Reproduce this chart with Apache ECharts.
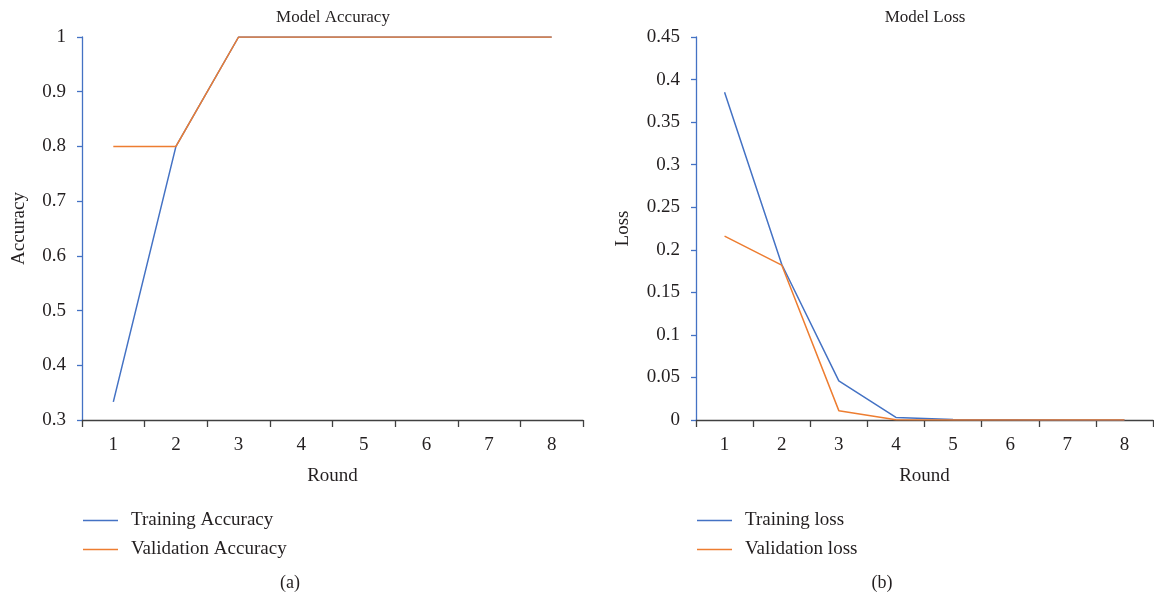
<!DOCTYPE html>
<html>
<head>
<meta charset="utf-8">
<script src="https://cdn.jsdelivr.net/npm/echarts@6/dist/echarts.min.js"></script>
<style>
html,body{margin:0;padding:0;background:#fff;}
#chart{width:1154px;height:601px;}
</style>
</head>
<body>
<div id="chart"></div>
<script>
const rounds = ['1','2','3','4','5','6','7','8'];
const trainingAccuracy = [0.333, 0.8, 1, 1, 1, 1, 1, 1];
const validationAccuracy = [0.8, 0.8, 1, 1, 1, 1, 1, 1];
const trainingLoss = [0.385, 0.183, 0.046, 0.003, 0.0005, 0.0002, 0.0001, 0.0001];
const validationLoss = [0.216, 0.182, 0.011, 0.0004, 0.0001, 0.0001, 0.0001, 0.0001];

const FONT = '"Liberation Serif", "DejaVu Serif", serif';
const TXT = '#231f20';
const BLUE = '#4472C4';
const ORANGE = '#ED7D31';

function xAxisCfg(gridIndex){
  return {
    type:'category', gridIndex, data: rounds, boundaryGap:true,
    name:'Round', nameLocation:'middle', nameGap:47,
    nameTextStyle:{fontFamily:FONT, fontSize:19, color:TXT},
    axisLine:{lineStyle:{color:'#404040', width:1.3}},
    axisTick:{show:true, interval:0, length:7, lineStyle:{color:'#404040', width:1.3}},
    axisLabel:{fontFamily:FONT, fontSize:19, color:TXT, margin:16, interval:0},
    splitLine:{show:false}
  };
}
function yAxisCfg(gridIndex, min, max, interval, name, nameGap){
  return {
    type:'value', gridIndex, min, max, interval,
    name, nameLocation:'middle', nameGap, nameRotate:90,
    nameTextStyle:{fontFamily:FONT, fontSize:19, color:TXT},
    axisLine:{show:true, lineStyle:{color:BLUE, width:1.3}},
    axisTick:{show:true, length:5, lineStyle:{color:BLUE, width:1.3}},
    axisLabel:{fontFamily:FONT, fontSize:19, color:TXT, margin:16},
    splitLine:{show:false}
  };
}
function lineSeries(name, data, color, idx){
  return {
    name, type:'line', data, xAxisIndex:idx, yAxisIndex:idx,
    symbol:'none', smooth:false, color,
    lineStyle:{color, width:1.5}, animation:false
  };
}
function legendCfg(names, left){
  return {
    data:names, orient:'vertical', left, top:506,
    icon:'rect', itemWidth:35, itemHeight:1.5, itemGap:10,
    textStyle:{fontFamily:FONT, fontSize:19, color:TXT, lineHeight:18, padding:[0,0,0,8]}
  };
}
const chart = echarts.init(document.getElementById('chart'), null, {renderer:'canvas'});
chart.setOption({
  backgroundColor:'#fff',
  animation:false,
  grid:[
    {left:82, right:571, top:37, bottom:181},
    {left:696, right:1, top:37, bottom:181}
  ],
  xAxis:[xAxisCfg(0), xAxisCfg(1)],
  yAxis:[
    yAxisCfg(0, 0.3, 1, 0.1, 'Accuracy', 53),
    yAxisCfg(1, 0, 0.45, 0.05, 'Loss', 63)
  ],
  legend:[
    legendCfg(['Training Accuracy','Validation Accuracy'], 78),
    legendCfg(['Training loss','Validation loss'], 692)
  ],
  series:[
    lineSeries('Training Accuracy', trainingAccuracy, BLUE, 0),
    lineSeries('Validation Accuracy', validationAccuracy, ORANGE, 0),
    lineSeries('Training loss', trainingLoss, BLUE, 1),
    lineSeries('Validation loss', validationLoss, ORANGE, 1)
  ],
  graphic:[
    {type:'text', x:333, y:18, style:{text:'Model Accuracy', font:'17px '+FONT, fill:TXT, align:'center', verticalAlign:'middle'}},
    {type:'text', x:925, y:18, style:{text:'Model Loss', font:'17px '+FONT, fill:TXT, align:'center', verticalAlign:'middle'}},
    {type:'text', x:290, y:583, style:{text:'(a)', font:'18px '+FONT, fill:TXT, align:'center', verticalAlign:'middle'}},
    {type:'text', x:882, y:583, style:{text:'(b)', font:'18px '+FONT, fill:TXT, align:'center', verticalAlign:'middle'}}
  ]
});
</script>
</body>
</html>
